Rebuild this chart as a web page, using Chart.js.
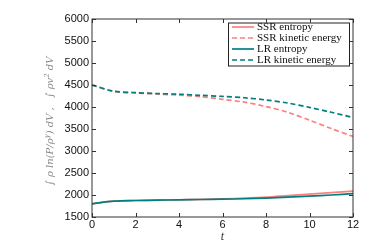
<!DOCTYPE html>
<html>
<head>
<meta charset="utf-8">
<script src="https://cdn.jsdelivr.net/npm/chart.js@4"></script>
<style>
  html, body { margin: 0; padding: 0; background: #fff; }
  #wrap { width: 390px; height: 244px; }
</style>
</head>
<body>
<div id="wrap"><canvas id="grafico" width="390" height="244"></canvas></div>
<script>
// valores
const tiempos = [0, 1, 2, 3, 4, 5, 6, 7, 8, 9, 10, 11, 12];
const ssrEntropia = [1800, 1860, 1875, 1883, 1892, 1902, 1912, 1928, 1950, 1985, 2020, 2055, 2090];
const ssrCinetica = [4500, 4355, 4320, 4295, 4270, 4235, 4175, 4110, 4010, 3880, 3700, 3510, 3330];
const lrEntropia  = [1800, 1860, 1875, 1882, 1890, 1898, 1905, 1915, 1930, 1950, 1975, 2000, 2030];
const lrCinetica  = [4500, 4360, 4325, 4305, 4290, 4265, 4240, 4210, 4160, 4090, 3990, 3880, 3760];
const etiquetas = ["SSR entropy", "SSR kinetic energy", "LR entropy", "LR kinetic energy"];
const yTicks = [1500, 2000, 2500, 3000, 3500, 4000, 4500, 5000, 5500, 6000];
const xTicks = [0, 2, 4, 6, 8, 10, 12];
// titulo del eje y, con exponentes
const tituloY = [
    { t: "\u222B \u03C1 ln(P/\u03C1" }, { t: "\u03B3", sup: true },
    { t: ") dV ,   \u222B \u03C1v" }, { t: "2", sup: true }, { t: " dV" }
];

const rojo = "#ff7f7f";
const verde = "#007f7f";

function puntos(ys) {
    return tiempos.map((t, i) => ({ x: t, y: ys[i] }));
}

// marco y ticks hacia adentro, como matplotlib
const marcoPlugin = {
    id: "marco",
    afterDatasetsDraw(chart) {
        const { ctx, chartArea: a, scales } = chart;
        ctx.save();
        ctx.strokeStyle = "#333";
        ctx.lineWidth = 1;
        ctx.strokeRect(a.left, a.top, a.right - a.left, a.bottom - a.top);
        const L = 4;
        ctx.beginPath();
        xTicks.forEach(v => {
            const px = Math.round(scales.x.getPixelForValue(v)) + 0.5;
            ctx.moveTo(px, a.bottom); ctx.lineTo(px, a.bottom - L);
            ctx.moveTo(px, a.top); ctx.lineTo(px, a.top + L);
        });
        yTicks.forEach(v => {
            const py = Math.round(scales.y.getPixelForValue(v)) + 0.5;
            ctx.moveTo(a.left, py); ctx.lineTo(a.left + L, py);
            ctx.moveTo(a.right, py); ctx.lineTo(a.right - L, py);
        });
        ctx.stroke();
        ctx.restore();
    }
};

// titulo y girado
const tituloPlugin = {
    id: "tituloY",
    afterDraw(chart) {
        const ctx = chart.ctx;
        const a = chart.chartArea;
        const f = "italic 10px 'DejaVu Serif', serif";
        const fs = "italic 7px 'DejaVu Serif', serif";
        ctx.save();
        let total = 0;
        tituloY.forEach(p => { ctx.font = p.sup ? fs : f; total += ctx.measureText(p.t).width; });
        ctx.translate(53, (a.top + a.bottom) / 2 + 3);
        ctx.rotate(-Math.PI / 2);
        ctx.fillStyle = "#888";
        ctx.textBaseline = "alphabetic";
        let x = -total / 2;
        tituloY.forEach(p => {
            ctx.font = p.sup ? fs : f;
            ctx.fillText(p.t, x, p.sup ? -4 : 0);
            x += ctx.measureText(p.t).width;
        });
        ctx.restore();
    }
};

// leyenda con caja
const leyendaPlugin = {
    id: "leyendaCaja",
    afterDraw(chart) {
        const ctx = chart.ctx;
        const x0 = 228, y0 = 22.5, w = 121, h = 43;
        ctx.save();
        ctx.fillStyle = "#fff";
        ctx.fillRect(x0, y0, w, h);
        ctx.strokeStyle = "#222";
        ctx.lineWidth = 1;
        ctx.strokeRect(x0 + 0.5, y0 + 0.5, w, h);
        ctx.font = "11px 'Liberation Serif', serif";
        ctx.textBaseline = "middle";
        chart.data.datasets.forEach((ds, i) => {
            const yy = 27 + i * 11;
            ctx.beginPath();
            ctx.strokeStyle = ds.borderColor;
            ctx.lineWidth = 1.7;
            ctx.setLineDash(ds.borderDash || []);
            ctx.moveTo(232, yy);
            ctx.lineTo(254, yy);
            ctx.stroke();
            ctx.setLineDash([]);
            ctx.fillStyle = "#111";
            ctx.fillText(ds.label, 257, yy + 0.5);
        });
        ctx.restore();
    }
};

const ctx = document.getElementById("grafico").getContext("2d");
new Chart(ctx, {
    type: "line",
    data: {
        datasets: [
            { label: etiquetas[0], data: puntos(ssrEntropia), borderColor: rojo, order: 1 },
            { label: etiquetas[1], data: puntos(ssrCinetica), borderColor: rojo, borderDash: [5, 3], order: 1 },
            { label: etiquetas[2], data: puntos(lrEntropia), borderColor: verde, order: 0 },
            { label: etiquetas[3], data: puntos(lrCinetica), borderColor: verde, borderDash: [5, 3], order: 0 }
        ]
    },
    options: {
        responsive: false,
        animation: false,
        layout: { padding: { left: 0, right: 37, top: 19, bottom: 0 } },
        elements: {
            point: { radius: 0 },
            line: { borderWidth: 1.7, tension: 0.3, fill: false }
        },
        plugins: {
            legend: { display: false },
            tooltip: { enabled: false }
        },
        scales: {
            x: {
                type: "linear",
                min: 0, max: 12,
                afterBuildTicks: s => { s.ticks = xTicks.map(v => ({ value: v })); },
                afterFit: s => { s.height = 27; },
                grid: { display: false, drawTicks: false },
                border: { display: false },
                ticks: {
                    color: "#111", padding: 1, callback: v => String(v),
                    font: { family: "'Liberation Sans', Arial", size: 11 }
                },
                title: {
                    display: true, text: "t", color: "#333", padding: { top: -3, bottom: 0 },
                    font: { family: "'Liberation Serif', serif", style: "italic", size: 12 }
                }
            },
            y: {
                min: 1500, max: 6000,
                afterBuildTicks: s => { s.ticks = yTicks.map(v => ({ value: v })); },
                afterFit: s => { s.width = 92; },
                grid: { display: false, drawTicks: false },
                border: { display: false },
                ticks: {
                    color: "#111", padding: 3, callback: v => String(v),
                    font: { family: "'Liberation Sans', Arial", size: 11 }
                }
            }
        }
    },
    plugins: [marcoPlugin, tituloPlugin, leyendaPlugin]
});
</script>
</body>
</html>
